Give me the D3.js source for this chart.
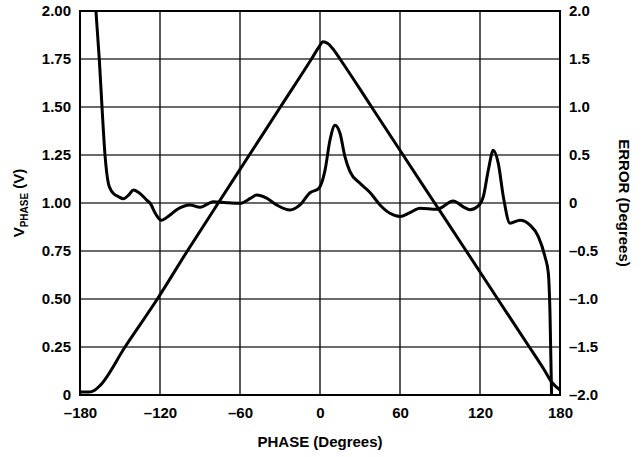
<!DOCTYPE html>
<html><head><meta charset="utf-8">
<script src="https://cdn.jsdelivr.net/npm/d3@7"></script>
<style>body{margin:0;background:#fff}svg{display:block}text{font-family:"Liberation Sans",Arial,sans-serif;font-weight:bold;fill:#000}</style>
</head><body>
<svg id="c" width="642" height="457"></svg>
<script>
// ---- data ----
const xTicks = [-180, -120, -60, 0, 60, 120, 180];
const xTickLabels = ["–180", "–120", "–60", "0", "60", "120", "180"];
const leftTicks = [0, 0.25, 0.5, 0.75, 1.0, 1.25, 1.5, 1.75, 2.0];
const leftTickLabels = ["0", "0.25", "0.50", "0.75", "1.00", "1.25", "1.50", "1.75", "2.00"];
const rightTicks = [-2.0, -1.5, -1.0, -0.5, 0, 0.5, 1.0, 1.5, 2.0];
const rightTickLabels = ["–2.0", "–1.5", "–1.0", "–0.5", "0", "0.5", "1.0", "1.5", "2.0"];

const vphasePhase = [-180, -173, -169, -165, -146.25, -122, -99.5, -76.3, -53, -29.7, -6.4, -1, 2.25, 6, 10, 15, 38.7, 62.3, 86, 109.7, 133.3, 157, 168, 174, 180];
const vphaseValue = [0.015, 0.015, 0.025, 0.049, 0.25, 0.5, 0.75, 1.0, 1.25, 1.5, 1.75, 1.81, 1.84, 1.83, 1.80, 1.75, 1.5, 1.25, 1.0, 0.75, 0.5, 0.25, 0.133, 0.065, 0.026];

const errorPhase = [-168.3, -165.5, -163.5, -161.25, -158.75, -157, -155, -151, -147.5, -143, -140, -136, -130, -127.5, -123, -119, -113, -107.5, -97.5, -90, -80, -70, -60, -52, -47.5, -40, -32.5, -22.5, -15, -7.5, -1, 3.75, 7.5, 11.25, 15, 18.75, 22.5, 30, 37.5, 45, 52.5, 60, 67.5, 75, 87.5, 100, 107.5, 112.5, 118.75, 122.5, 126.25, 130, 133.75, 137.5, 142.5, 150, 157.5, 163.75, 168.75, 171.25, 172.5, 173.75];
const errorValue = [2.05, 1.49, 1.0, 0.5, 0.205, 0.14, 0.10, 0.065, 0.045, 0.09, 0.135, 0.11, 0.031, 0.0, -0.12, -0.18, -0.13, -0.07, -0.02, -0.045, 0.014, 0.003, -0.003, 0.05, 0.083, 0.05, -0.02, -0.073, -0.02, 0.107, 0.15, 0.34, 0.656, 0.81, 0.726, 0.48, 0.326, 0.205, 0.11, -0.02, -0.107, -0.14, -0.10, -0.055, -0.066, 0.02, -0.04, -0.07, -0.03, 0.066, 0.344, 0.55, 0.41, 0.066, -0.21, -0.18, -0.23, -0.35, -0.56, -0.73, -1.15, -2.05];

// ---- layout ----
const svg = d3.select("#c");
const L = 80, R = 560, T = 11, B = 395;
const x = d3.scaleLinear().domain([-180, 180]).range([L, R]);
const yL = d3.scaleLinear().domain([0, 2]).range([B, T]);
const yR = d3.scaleLinear().domain([-2, 2]).range([B, T]);

svg.append("defs").append("clipPath").attr("id", "clip")
  .append("rect").attr("x", L).attr("y", T).attr("width", R - L).attr("height", B - T);

// grid
const grid = svg.append("g");
grid.selectAll("line.h").data(leftTicks.slice(1, -1)).enter().append("line")
  .attr("x1", L).attr("x2", R).attr("y1", d => yL(d)).attr("y2", d => yL(d))
  .attr("stroke", "#3a3a3a").attr("stroke-width", 1.6);
grid.selectAll("line.v").data(xTicks.slice(1, -1)).enter().append("line")
  .attr("y1", T).attr("y2", B).attr("x1", d => x(d)).attr("x2", d => x(d))
  .attr("stroke", "#000").attr("stroke-width", 1.3);

// axes (labels only)
const axB = d3.axisBottom(x).tickValues(xTicks).tickSize(0).tickPadding(12)
  .tickFormat((d, i) => xTickLabels[i]);
const gB = svg.append("g").attr("transform", `translate(0,${B})`).call(axB);
const axL = d3.axisLeft(yL).tickValues(leftTicks).tickSize(0).tickPadding(9)
  .tickFormat((d, i) => leftTickLabels[i]);
const gL = svg.append("g").attr("transform", `translate(${L},0)`).call(axL);
const axR = d3.axisRight(yR).tickValues(rightTicks).tickSize(0).tickPadding(9)
  .tickFormat((d, i) => rightTickLabels[i]);
const gR = svg.append("g").attr("transform", `translate(${R},0)`).call(axR);
[gB, gL, gR].forEach(g => {
  g.select(".domain").remove();
  g.selectAll("text").style("font-size", "15px").style("font-weight", "bold")
    .style("font-family", "'Liberation Sans', Arial, sans-serif").attr("fill", "#000");
});

// frame
svg.append("rect").attr("x", L).attr("y", T).attr("width", R - L).attr("height", B - T)
  .attr("fill", "none").attr("stroke", "#000").attr("stroke-width", 2);

// curves
const plot = svg.append("g").attr("clip-path", "url(#clip)");
const vData = vphasePhase.map((p, i) => [p, vphaseValue[i]]);
const eData = errorPhase.map((p, i) => [p, errorValue[i]]);
plot.append("path").datum(vData)
  .attr("d", d3.line().x(d => x(d[0])).y(d => yL(d[1])).curve(d3.curveMonotoneX))
  .attr("fill", "none").attr("stroke", "#000").attr("stroke-width", 3).attr("stroke-linejoin", "round");
plot.append("path").datum(eData)
  .attr("d", d3.line().x(d => x(d[0])).y(d => yR(d[1])).curve(d3.curveMonotoneX))
  .attr("fill", "none").attr("stroke", "#000").attr("stroke-width", 3).attr("stroke-linejoin", "round");

// titles
svg.append("text").attr("x", (L + R) / 2).attr("y", 447).attr("text-anchor", "middle")
  .style("font-size", "15px").text("PHASE (Degrees)");
const lt = svg.append("text").attr("transform", `translate(24,${(T + B) / 2}) rotate(-90)`)
  .attr("text-anchor", "middle").style("font-size", "15px");
lt.append("tspan").text("V");
lt.append("tspan").attr("dy", 4).style("font-size", "10px").text("PHASE");
lt.append("tspan").attr("dy", -4).text(" (V)");
svg.append("text").attr("transform", `translate(619,${(T + B) / 2}) rotate(90)`)
  .attr("text-anchor", "middle").style("font-size", "15px").text("ERROR (Degrees)");
</script>
</body></html>
